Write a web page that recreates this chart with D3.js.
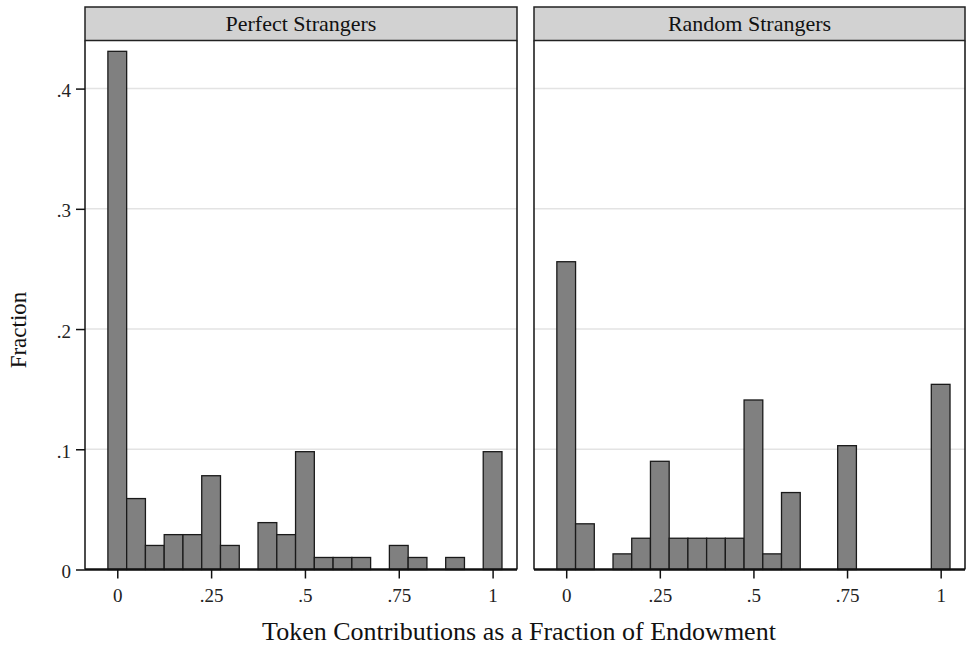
<!DOCTYPE html>
<html><head><meta charset="utf-8">
<script src="https://cdn.jsdelivr.net/npm/d3@7"></script>
<style>body{margin:0;background:#fff;} svg{display:block;}</style>
</head><body>
<svg id="chart" width="966" height="647"></svg>
<script>
const panelTitles = ["Perfect Strangers", "Random Strangers"];
const binCenters = [0,0.05,0.1,0.15,0.2,0.25,0.3,0.35,0.4,0.45,0.5,0.55,0.6,0.65,0.7,0.75,0.8,0.85,0.9,0.95,1];
const perfectFraction = [0.431,0.059,0.020,0.029,0.029,0.078,0.020,0,0.039,0.029,0.098,0.010,0.010,0.010,0,0.020,0.010,0,0.010,0,0.098];
const randomFraction  = [0.256,0.038,0,0.013,0.026,0.090,0.026,0.026,0.026,0.026,0.141,0.013,0.064,0,0,0.103,0,0,0,0,0.154];
const yTicks = [0,0.1,0.2,0.3,0.4];
const xTicks = [0,0.25,0.5,0.75,1];
const binWidth = 0.05;
const yLabel = "Fraction";
const xLabel = "Token Contributions as a Fraction of Endowment";

const svg = d3.select("#chart");
const font = "'Liberation Serif', 'Times New Roman', serif";
const fmt = d => d === 0 ? "0" : (d === 1 ? "1" : d3.format("~g")(d).replace(/^0/, ""));

const panels = [
  {title: panelTitles[0], values: perfectFraction, x0: 85, x1: 517},
  {title: panelTitles[1], values: randomFraction, x0: 534, x1: 965}
];
const headTop = 7, plotTop = 40.5, plotBottom = 569.5;
const y = d3.scaleLinear().domain([0, 0.44]).range([plotBottom, plotTop]);

panels.forEach((p, pi) => {
  const x = d3.scaleLinear().domain([-0.086, 1.065]).range([p.x0, p.x1]);
  const g = svg.append("g");
  g.selectAll("line.grid").data(yTicks.filter(d => d > 0)).join("line")
    .attr("x1", p.x0).attr("x2", p.x1)
    .attr("y1", d => y(d)).attr("y2", d => y(d))
    .attr("stroke", "#e3e3e3").attr("stroke-width", 1.5);
  const data = binCenters.map((c, i) => ({c, v: p.values[i]})).filter(d => d.v > 0);
  g.selectAll("rect.bar").data(data).join("rect")
    .attr("x", d => x(d.c - binWidth / 2))
    .attr("width", d => x(d.c + binWidth / 2) - x(d.c - binWidth / 2))
    .attr("y", d => y(d.v))
    .attr("height", d => y(0) - y(d.v))
    .attr("fill", "#808080").attr("stroke", "#1a1a1a").attr("stroke-width", 1.3);
  g.append("line").attr("x1", p.x0).attr("x2", p.x0).attr("y1", plotTop).attr("y2", plotBottom)
    .attr("stroke", "#111").attr("stroke-width", 1.5);
  g.append("line").attr("x1", p.x1).attr("x2", p.x1).attr("y1", plotTop).attr("y2", plotBottom)
    .attr("stroke", "#111").attr("stroke-width", 1.5);
  g.append("rect").attr("x", p.x0).attr("y", headTop).attr("width", p.x1 - p.x0).attr("height", plotTop - headTop)
    .attr("fill", "#d2d2d2").attr("stroke", "#222").attr("stroke-width", 1.5);
  g.append("text").attr("x", (p.x0 + p.x1) / 2).attr("y", 31)
    .attr("text-anchor", "middle").attr("font-family", font).attr("font-size", 22)
    .attr("fill", "#111").text(p.title);
  const xAxis = d3.axisBottom(x).tickValues(xTicks).tickFormat(fmt).tickSize(9).tickPadding(10);
  const ax = g.append("g").attr("transform", `translate(0,${plotBottom})`).call(xAxis);
  ax.select(".domain").attr("d", `M${p.x0},0H${p.x1}`).attr("stroke", "#111").attr("stroke-width", 2.5);
  ax.selectAll(".tick line").attr("stroke", "#111").attr("stroke-width", 1.5);
  ax.selectAll(".tick text").attr("font-family", font).attr("font-size", 19).attr("fill", "#222");
  if (pi === 0) {
    const yAxis = d3.axisLeft(y).tickValues(yTicks).tickFormat(fmt).tickSize(9).tickPadding(5);
    const ay = g.append("g").attr("transform", `translate(${p.x0},0)`).call(yAxis);
    ay.select(".domain").remove();
    ay.selectAll(".tick line").attr("stroke", "#111").attr("stroke-width", 1.5);
    ay.selectAll(".tick text").attr("font-family", font).attr("font-size", 19).attr("fill", "#222").attr("dy", "0.42em");
  }
});

svg.append("text").attr("x", 519).attr("y", 640).attr("text-anchor", "middle")
  .attr("font-family", font).attr("font-size", 26).attr("fill", "#111").text(xLabel);
svg.append("text").attr("transform", "translate(26,330) rotate(-90)").attr("text-anchor", "middle")
  .attr("font-family", font).attr("font-size", 23).attr("fill", "#111").text(yLabel);
</script>
</body></html>
